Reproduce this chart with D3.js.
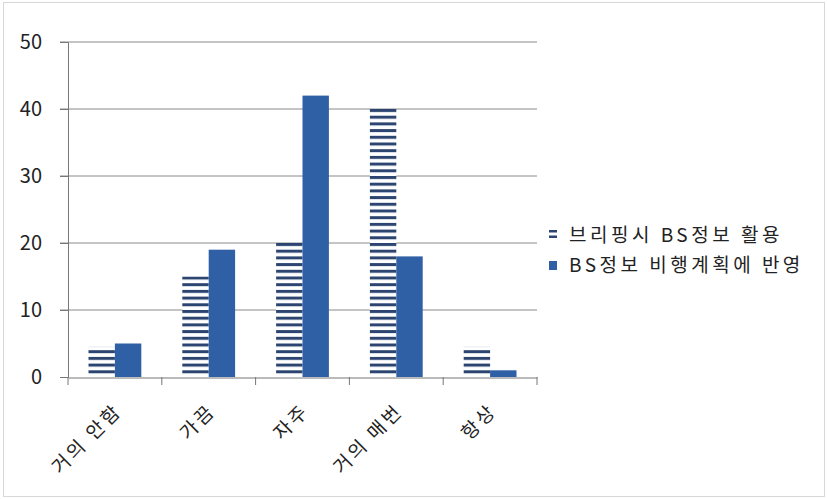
<!DOCTYPE html>
<html><head><meta charset="utf-8">
<script src="https://cdn.jsdelivr.net/npm/d3@7"></script>
<style>body{margin:0;background:#fff}svg{display:block}text{font-family:"Noto Sans CJK KR","Noto Sans",sans-serif;fill:#222}</style>
</head><body>
<script>
const categories = ["거의 안함", "가끔", "자주", "거의 매번", "항상"];
const seriesNames = ["브리핑시 BS정보 활용", "BS정보 비행계획에 반영"];
const series1 = [4.5, 15, 20, 40, 4.5];
const series2 = [5, 19, 42, 18, 1];
const yTicks = [0, 10, 20, 30, 40, 50];

const W = 827, H = 499;
const svg = d3.select("body").append("svg").attr("width", W).attr("height", H);
const defs = svg.append("defs");
const pat = defs.append("pattern").attr("id","stripes").attr("patternUnits","userSpaceOnUse")
  .attr("width", 8).attr("height", 6.7).attr("y", 377);
pat.append("rect").attr("width",8).attr("height",6.7).attr("fill","#fff");
pat.append("rect").attr("y",0).attr("width",8).attr("height",3).attr("fill","#2b4570");

svg.append("rect").attr("x",3.5).attr("y",2.5).attr("width",821).attr("height",494)
  .attr("fill","#fff").attr("stroke","#d8d8d8");

const x0 = d3.scaleBand().domain(categories).range([68, 537]).paddingInner(0).paddingOuter(0);
const y = d3.scaleLinear().domain([0, 50]).range([377, 42]);
const x1 = d3.scaleBand().domain([0,1]).range([20.5, x0.bandwidth()-20.5]).padding(0);

// gridlines
svg.append("g").selectAll("line").data(yTicks.filter(d=>d>0)).join("line")
  .attr("x1", 60).attr("x2", 537).attr("y1", d=>y(d)).attr("y2", d=>y(d))
  .attr("stroke", "#8a8a8a").attr("stroke-width", 1);

// bars
const colors = ["url(#stripes)", "#2f5fa5"];
[series1, series2].forEach((s, si) => {
  svg.append("g").selectAll("rect").data(s).join("rect")
    .attr("x", (d,i) => x0(categories[i]) + x1(si))
    .attr("width", x1.bandwidth())
    .attr("y", d => y(d))
    .attr("height", d => y(0) - y(d))
    .attr("fill", colors[si]);
});

// y axis
const yAxis = d3.axisLeft(y).tickValues(yTicks).tickSize(8).tickPadding(18);
const gy = svg.append("g").attr("transform","translate(68,0)").call(yAxis);
gy.select(".domain").attr("stroke","#777");
gy.selectAll(".tick line").attr("stroke","#777");
gy.selectAll("text").attr("font-size", 20).attr("fill","#333");

// x axis
const xAxis = d3.axisBottom(x0).tickSize(0).tickFormat("");
const gx = svg.append("g").attr("transform","translate(0,377.5)").call(xAxis);
gx.select(".domain").attr("stroke","#777");
gx.selectAll(".tick").remove();
const bounds = [x0.range()[0]].concat(categories.map(c => x0(c) + x0.bandwidth()));
svg.append("g").selectAll("line").data(bounds).join("line")
  .attr("x1", d => d).attr("x2", d => d)
  .attr("y1", 377).attr("y2", 385).attr("stroke","#777");
svg.append("g").selectAll("text").data(categories).join("text")
  .attr("transform", d => `translate(${x0(d) + x0.bandwidth()/2 + 8},${412}) rotate(-45)`)
  .attr("text-anchor","end").attr("font-size", 19).attr("letter-spacing", 3).attr("fill","#333").text(d=>d);

// legend
const lg = svg.append("g").attr("transform","translate(549,0)");
lg.append("rect").attr("x",0).attr("y",230).attr("width",8).attr("height",2.5).attr("fill","#2b4570");
lg.append("rect").attr("x",0).attr("y",235.5).attr("width",8).attr("height",2.5).attr("fill","#2b4570");
lg.append("rect").attr("x",0).attr("y",261).attr("width",8).attr("height",9).attr("fill","#2f5fa5");
lg.append("text").attr("x",20).attr("y",242).attr("font-size",19).attr("letter-spacing",3.5).attr("fill","#333").text(seriesNames[0]);
lg.append("text").attr("x",20).attr("y",272).attr("font-size",19).attr("letter-spacing",3.5).attr("fill","#333").text(seriesNames[1]);
</script>
</body></html>
